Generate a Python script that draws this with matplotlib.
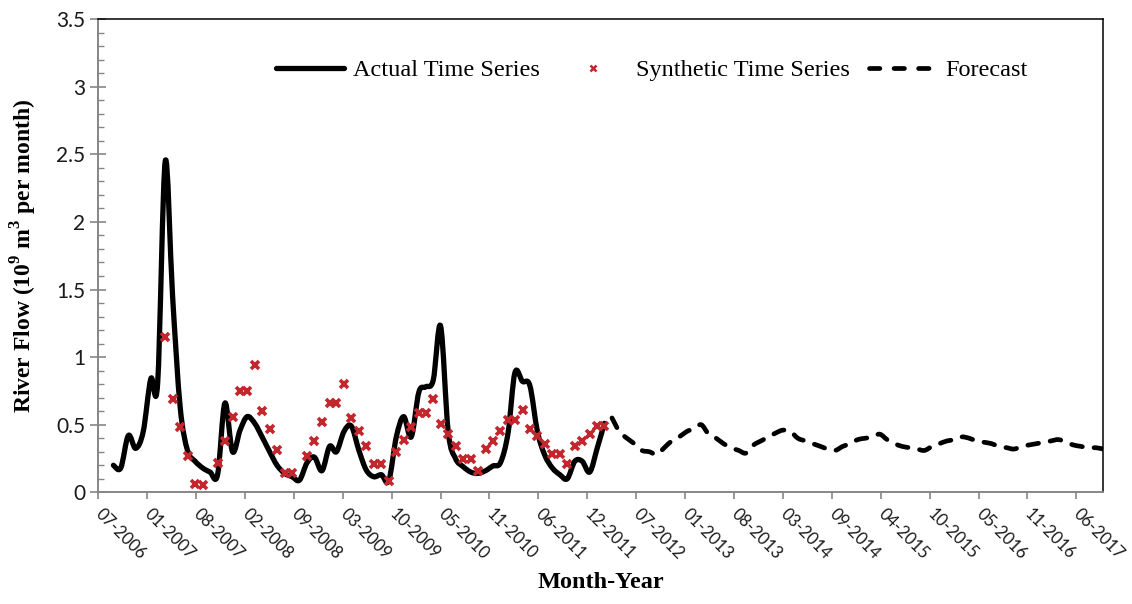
import numpy as np
import pandas as pd
import matplotlib
matplotlib.use("Agg")
import matplotlib.pyplot as plt
import matplotlib.dates as mdates
from matplotlib.path import Path
from matplotlib.patches import PathPatch
from matplotlib.lines import Line2D

plt.rcParams["mathtext.fontset"] = "custom"
plt.rcParams["mathtext.rm"] = "Liberation Serif"
plt.rcParams["mathtext.bf"] = "Liberation Serif:bold"

# monthly river flow (10^9 m3), actual record Sep-2006 .. Mar-2012
actual_start = "2006-09-01"
actual = [0.20, 0.18, 0.42, 0.325, 0.45, 0.84, 0.81, 2.45, 1.45, 0.63,
          0.31, 0.23, 0.18, 0.15, 0.13, 0.66, 0.30, 0.46, 0.56, 0.51,
          0.41, 0.30, 0.20, 0.14, 0.115, 0.09, 0.22, 0.26, 0.16, 0.34,
          0.30, 0.45, 0.49, 0.31, 0.165, 0.115, 0.13, 0.085, 0.41, 0.56,
          0.41, 0.74, 0.78, 0.83, 1.23, 0.45, 0.25, 0.19, 0.15, 0.14,
          0.16, 0.195, 0.22, 0.44, 0.885, 0.82, 0.79, 0.45, 0.275, 0.18,
          0.13, 0.10, 0.23, 0.23, 0.15, 0.33, 0.51]

# synthetic series Apr-2007 .. Mar-2012 (None = below axis)
synthetic_start = "2007-04-01"
synthetic = [1.15, 0.69, 0.48, 0.27, 0.06, 0.055, None, 0.22, 0.38, 0.555,
             0.75, 0.75, 0.94, 0.60, 0.47, 0.31, 0.14, 0.14, None, 0.27,
             0.38, 0.52, 0.66, 0.66, 0.80, 0.55, 0.45, 0.34, 0.21, 0.21,
             0.085, 0.30, 0.39, 0.485, 0.59, 0.59, 0.69, 0.505, 0.435, 0.345,
             0.25, 0.25, 0.16, 0.32, 0.38, 0.455, 0.535, 0.535, 0.61, 0.47,
             0.42, 0.355, 0.285, 0.285, 0.21, 0.34, 0.38, 0.435, 0.49, 0.49]

# forecast Apr-2012 .. Oct-2017
forecast_start = "2012-04-01"
forecast = [0.55, 0.45, 0.40, 0.36, 0.31, 0.30, 0.28, 0.33, 0.38, 0.41,
            0.45, 0.47, 0.50, 0.43, 0.40, 0.36, 0.33, 0.31, 0.29, 0.35,
            0.38, 0.41, 0.44, 0.46, 0.45, 0.40, 0.38, 0.36, 0.34, 0.32,
            0.31, 0.34, 0.36, 0.39, 0.40, 0.41, 0.43, 0.39, 0.36, 0.34,
            0.33, 0.32, 0.31, 0.34, 0.36, 0.38, 0.39, 0.41, 0.40, 0.38,
            0.37, 0.36, 0.34, 0.33, 0.32, 0.34, 0.35, 0.36, 0.37, 0.38,
            0.39, 0.37, 0.35, 0.34, 0.33, 0.33, 0.32]

tick_labels = ["07-2006", "01-2007", "08-2007", "02-2008", "09-2008", "03-2009",
               "10-2009", "05-2010", "11-2010", "06-2011", "12-2011", "07-2012",
               "01-2013", "08-2013", "03-2014", "09-2014", "04-2015", "10-2015",
               "05-2016", "11-2016", "06-2017"]

red = "#C4262E"
serif = "Liberation Serif"


def months(start, n):
    return mdates.date2num(pd.date_range(start, periods=n, freq="MS").to_pydatetime())


def smooth_path(xs, ys):
    # cubic bezier through every point (spreadsheet-style smoothed line)
    n = len(xs)
    verts = [(xs[0], ys[0])]
    codes = [Path.MOVETO]
    for i in range(n - 1):
        a = max(i - 1, 0)
        b = min(i + 2, n - 1)
        c1 = (xs[i] + (xs[i + 1] - xs[a]) / 6, ys[i] + (ys[i + 1] - ys[a]) / 6)
        c2 = (xs[i + 1] - (xs[b] - xs[i]) / 6, ys[i + 1] - (ys[b] - ys[i]) / 6)
        verts += [c1, c2, (xs[i + 1], ys[i + 1])]
        codes += [Path.CURVE4] * 3
    return Path(verts, codes)


fig = plt.figure(figsize=(11.32, 6.04), dpi=100)
ax = fig.add_axes([0.0868, 0.1849, 0.8878, 0.7835])

xa = months(actual_start, len(actual))
xs = months(synthetic_start, len(synthetic))
xf = months(forecast_start, len(forecast))

ys = np.array([np.nan if v is None else v for v in synthetic])

ax.add_patch(PathPatch(smooth_path(xa, actual), fill=False, ec="black", lw=3.8,
                       capstyle="round", joinstyle="round", zorder=2))
ax.add_patch(PathPatch(smooth_path(xf, forecast), fill=False, ec="black", lw=3.4,
                       ls=(0, (2.3, 2.5)), capstyle="round", joinstyle="round", zorder=2))
ax.plot(xs, ys, ls="none", marker="x", ms=6, mew=2.6, color=red, zorder=3)

t0 = pd.Timestamp("2006-07-01")
ticks = mdates.date2num([(t0 + pd.Timedelta(days=200 * i)).to_pydatetime()
                         for i in range(len(tick_labels))])
ax.set_xlim(mdates.date2num(t0.to_pydatetime()),
            mdates.date2num(pd.Timestamp("2017-10-01").to_pydatetime()))
ax.set_xticks(ticks)
ax.set_xticklabels(tick_labels, rotation=-45, ha="left", va="center",
                   rotation_mode="anchor", family="Lato", fontsize=12)

ax.set_ylim(0, 3.5)
ax.set_yticks(np.arange(0, 3.51, 0.5))
ax.set_yticklabels(["0", "0.5", "1", "1.5", "2", "2.5", "3", "3.5"],
                   family="Lato", fontsize=15)
ax.set_yticks(np.arange(0, 3.51, 0.1), minor=True)

gray = "#868686"
for s in ["left", "bottom"]:
    ax.spines[s].set_color(gray)
    ax.spines[s].set_linewidth(1.4)
for s in ["top", "right"]:
    ax.spines[s].set_color("black")
    ax.spines[s].set_linewidth(1.1)

ax.tick_params(axis="x", direction="out", length=5, width=1.2, color=gray,
               pad=9, labelcolor="#1a1a1a")
ax.tick_params(axis="y", which="major", direction="inout", length=11, width=1.2,
               color=gray, pad=4, labelcolor="#1a1a1a")
ax.tick_params(axis="y", which="minor", direction="in", length=4.5, width=1.0,
               color=gray)

ax.set_ylabel(r"River Flow (10$^{\mathbf{9}}$ m$^{\mathbf{3}}$ per month)",
              family=serif, fontweight="bold", fontsize=17, labelpad=12)
fig.text(0.531, 0.018, "Month-Year", family=serif, fontweight="bold",
         fontsize=17.5, ha="center", va="bottom")

handles = [
    Line2D([], [], color="black", lw=3.8, solid_capstyle="round"),
    Line2D([], [], ls="none", marker="x", ms=4, mew=1.8, color=red),
    Line2D([], [], color="black", lw=3.4, ls=(0, (2.2, 3.0)), dash_capstyle="round"),
]
ax.legend(handles, ["Actual Time Series", "Synthetic Time Series", "Forecast"],
          loc="center", bbox_to_anchor=(0.551, 0.892), ncol=3, frameon=False,
          prop={"family": serif, "size": 17.5}, handlelength=2.8,
          handletextpad=0.35, columnspacing=0.8)

fig.savefig("out.png", dpi=100)
